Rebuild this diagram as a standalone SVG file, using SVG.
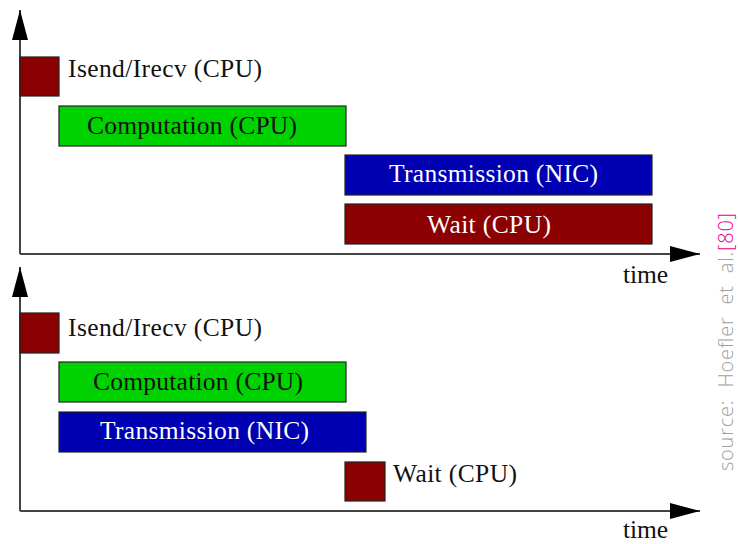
<svg xmlns="http://www.w3.org/2000/svg" width="738" height="544" viewBox="0 0 738 544">
<defs>
<marker id="ah" markerWidth="30" markerHeight="16" refX="30" refY="8" orient="auto" markerUnits="userSpaceOnUse">
<path d="M0,0 L30,8 L0,16 Z" fill="#000"/>
</marker>
<style>
.ax{stroke:#444;stroke-width:2;fill:none}
.box{stroke:#222;stroke-width:1.2}
.red{fill:#8b0000}
.grn{fill:#00d100}
.blu{fill:#0000b3}
.t{font-family:"Liberation Serif","Times New Roman",serif;font-size:25.5px;fill:#111}
.w{fill:#fff}
.src{font-family:"Open Sans","DejaVu Sans",sans-serif;font-size:20px;font-weight:300;fill:#a0a0a0;white-space:pre}
</style>
</defs>
<rect width="738" height="544" fill="#fff"/>
<g id="connectors">
<path class="ax" d="M20,254 V10" marker-end="url(#ah)"/>
<path class="ax" d="M20,254 H700" marker-end="url(#ah)"/>
<path class="ax" d="M20,511 V267" marker-end="url(#ah)"/>
<path class="ax" d="M20,511 H700" marker-end="url(#ah)"/>
</g>
<g id="top-isend"><rect class="box red" x="20" y="57" width="39" height="39"/><text class="t" x="68" y="77" textLength="194" lengthAdjust="spacing">Isend/Irecv (CPU)</text></g>
<g id="top-computation"><rect class="box grn" x="59" y="106" width="287" height="40"/><text class="t" x="87" y="134" textLength="210" lengthAdjust="spacing">Computation (CPU)</text></g>
<g id="top-transmission"><rect class="box blu" x="345" y="155" width="307" height="40"/><text class="t w" x="389" y="182" textLength="209" lengthAdjust="spacing">Transmission (NIC)</text></g>
<g id="top-wait"><rect class="box red" x="345" y="204" width="307" height="40"/><text class="t w" x="427" y="233" textLength="124" lengthAdjust="spacing">Wait (CPU)</text></g>
<g id="top-time"><text class="t" x="623" y="283" textLength="45" lengthAdjust="spacing">time</text></g>
<g id="bot-isend"><rect class="box red" x="20" y="313" width="39" height="40"/><text class="t" x="68" y="336" textLength="194" lengthAdjust="spacing">Isend/Irecv (CPU)</text></g>
<g id="bot-computation"><rect class="box grn" x="59" y="362" width="287" height="40"/><text class="t" x="93" y="390" textLength="210" lengthAdjust="spacing">Computation (CPU)</text></g>
<g id="bot-transmission"><rect class="box blu" x="59" y="412" width="307" height="40"/><text class="t w" x="100" y="439" textLength="209" lengthAdjust="spacing">Transmission (NIC)</text></g>
<g id="bot-wait"><rect class="box red" x="345" y="462" width="40" height="39"/><text class="t" x="393" y="482" textLength="124" lengthAdjust="spacing">Wait (CPU)</text></g>
<g id="bot-time"><text class="t" x="623" y="538" textLength="45" lengthAdjust="spacing">time</text></g>
<g id="source"><text class="src" xml:space="preserve" transform="translate(733,471) rotate(-90)" textLength="258" lengthAdjust="spacing">source:  Hoefler  et  al.<tspan fill="#e8008a">[80]</tspan></text></g>
</svg>
